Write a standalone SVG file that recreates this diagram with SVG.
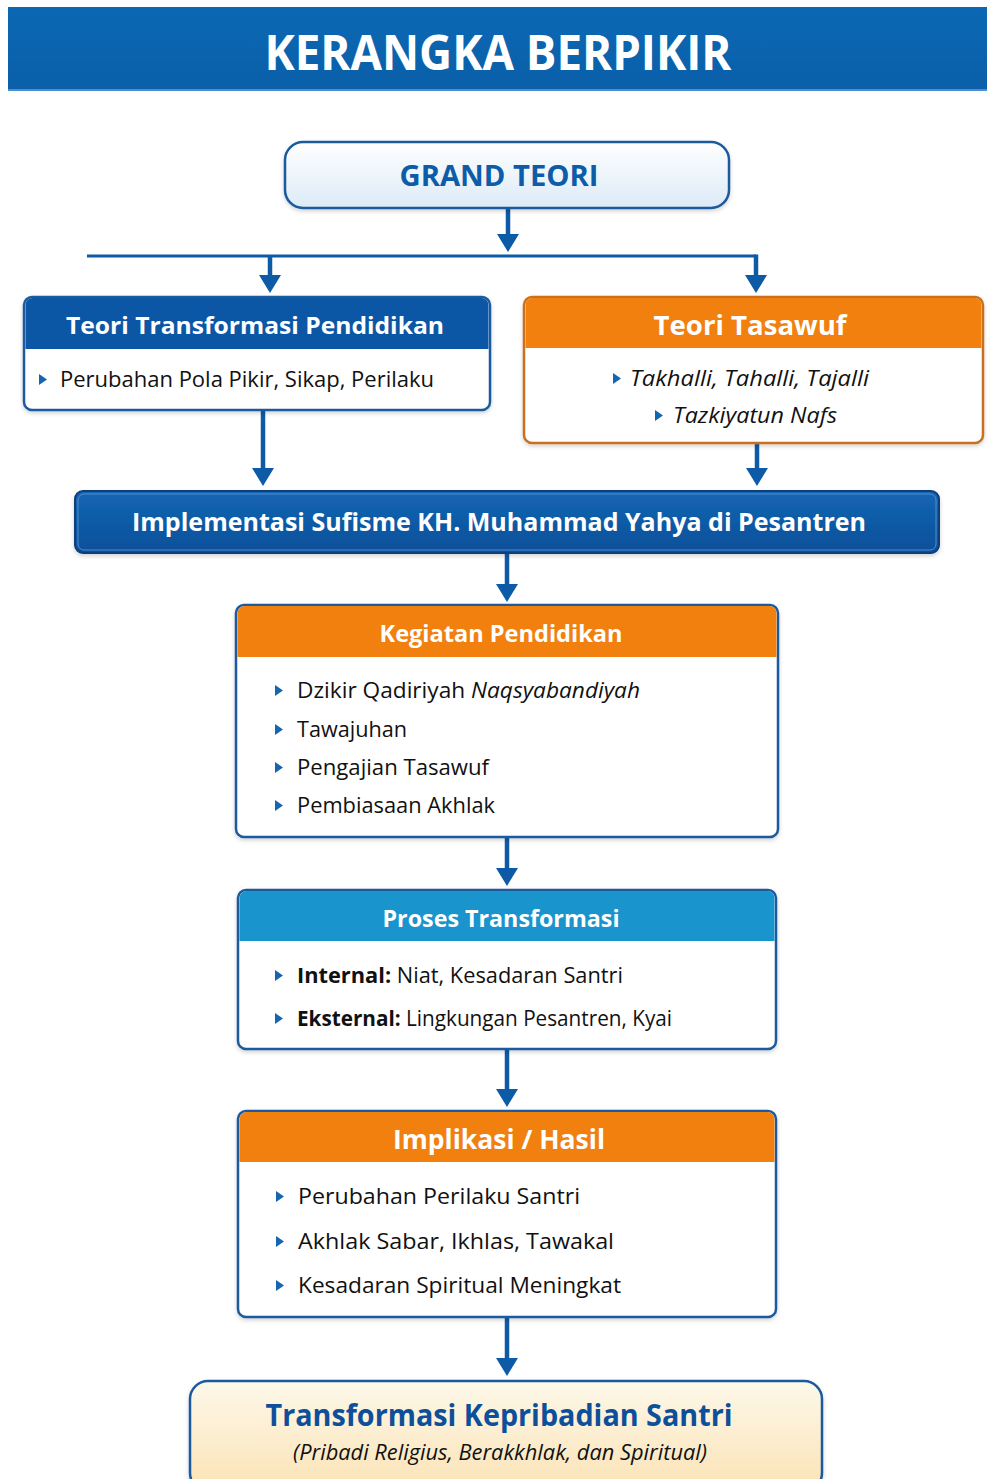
<svg xmlns="http://www.w3.org/2000/svg" width="987" height="1479" viewBox="0 0 987 1479">
<defs>
<style>
.t{font-family:"Open Sans","Noto Sans","DejaVu Sans",sans-serif}
.hd{font-family:"Open Sans","Noto Sans",sans-serif;font-weight:700;fill:#fff}
.bd{font-family:"Open Sans","Noto Sans",sans-serif;fill:#111;font-size:22px}
.box{fill:#fff;stroke:#1b5a9e;stroke-width:2.5}
.obox{fill:#fff;stroke:#c8701c;stroke-width:2.5}
.conn{stroke:#0d5aa7;stroke-width:4.5;fill:none}
.bul{fill:#1565b0}
</style>
<linearGradient id="gGrand" x1="0" y1="0" x2="0" y2="1"><stop offset="0" stop-color="#ffffff"/><stop offset="1" stop-color="#dceaf7"/></linearGradient>
<linearGradient id="gFinal" x1="0" y1="0" x2="0" y2="1"><stop offset="0" stop-color="#fdf8ea"/><stop offset="1" stop-color="#fbe3b5"/></linearGradient>
<linearGradient id="gImpl" x1="0" y1="0" x2="0" y2="1"><stop offset="0" stop-color="#1466b3"/><stop offset="1" stop-color="#0a4f99"/></linearGradient>
<linearGradient id="gHead" x1="0" y1="0" x2="0" y2="1"><stop offset="0" stop-color="#0c68b4"/><stop offset="1" stop-color="#0a5fa8"/></linearGradient>
<marker id="ah" viewBox="0 0 18 22" refX="6" refY="11" markerWidth="18" markerHeight="22" markerUnits="userSpaceOnUse" orient="auto"><path d="M0,0 L18,11 L0,22 z" fill="#0d5aa7"/></marker>
<filter id="sh" x="-5%" y="-10%" width="110%" height="130%"><feDropShadow dx="0" dy="2" stdDeviation="2" flood-color="#000" flood-opacity="0.18"/></filter>
</defs>
<rect x="0" y="0" width="987" height="1479" fill="#ffffff"/>

<g id="title">
<rect x="8" y="7" width="979" height="84" fill="url(#gHead)"/>
<rect x="8" y="89" width="979" height="2" fill="#4a90d0"/>
<text x="498" y="70" text-anchor="middle" class="hd" font-size="48" textLength="467" lengthAdjust="spacingAndGlyphs">KERANGKA BERPIKIR</text>
</g>

<g id="connectors">
<line class="conn" x1="508" y1="208" x2="508" y2="240" marker-end="url(#ah)"/>
<polyline points="87,256 756,256" stroke="#0d5aa7" stroke-width="3" fill="none"/>
<line class="conn" x1="270" y1="256" x2="270" y2="281" marker-end="url(#ah)"/>
<line class="conn" x1="756" y1="254.5" x2="756" y2="281" marker-end="url(#ah)"/>
<line class="conn" x1="263" y1="410" x2="263" y2="474" marker-end="url(#ah)"/>
<line class="conn" x1="757" y1="443" x2="757" y2="474" marker-end="url(#ah)"/>
<line class="conn" x1="507" y1="553" x2="507" y2="590" marker-end="url(#ah)"/>
<line class="conn" x1="507" y1="837" x2="507" y2="874" marker-end="url(#ah)"/>
<line class="conn" x1="507" y1="1049" x2="507" y2="1095" marker-end="url(#ah)"/>
<line class="conn" x1="507" y1="1317" x2="507" y2="1364" marker-end="url(#ah)"/>
</g>

<g id="grand-teori">
<rect x="285" y="142" width="444" height="66" rx="18" fill="url(#gGrand)" stroke="#1b5a9e" stroke-width="2.5" filter="url(#sh)"/>
<text x="499" y="186" text-anchor="middle" class="t" font-weight="700" font-size="29" fill="#0d5ca8" textLength="199" lengthAdjust="spacingAndGlyphs">GRAND TEORI</text>
</g>

<g id="teori-transformasi">
<rect class="box" x="24" y="297" width="466" height="113" rx="8" filter="url(#sh)"/>
<path d="M25.5,349 V305 a7,7 0 0 1 7,-7 H481.5 a7,7 0 0 1 7,7 V349 z" fill="#0b57a5"/>
<text x="255" y="334" text-anchor="middle" class="hd" font-size="24" textLength="378" lengthAdjust="spacingAndGlyphs">Teori Transformasi Pendidikan</text>
<path class="bul" d="M39,374 L47,379.5 L39,385 z"/>
<text x="60" y="387" class="bd" textLength="374" lengthAdjust="spacingAndGlyphs">Perubahan Pola Pikir, Sikap, Perilaku</text>
</g>

<g id="teori-tasawuf">
<rect class="obox" x="524" y="297" width="459" height="146" rx="8" filter="url(#sh)"/>
<path d="M525.5,348 V305 a7,7 0 0 1 7,-7 H974.5 a7,7 0 0 1 7,7 V348 z" fill="#f2800f"/>
<text x="750" y="335" text-anchor="middle" class="hd" font-size="26" textLength="193" lengthAdjust="spacingAndGlyphs">Teori Tasawuf</text>
<path class="bul" d="M613,373 L621,378.5 L613,384 z"/>
<text x="630" y="386" class="bd" font-style="italic" textLength="239" lengthAdjust="spacingAndGlyphs">Takhalli, Tahalli, Tajalli</text>
<path class="bul" d="M655,410 L663,415.5 L655,421 z"/>
<text x="673" y="423" class="bd" font-style="italic" textLength="164" lengthAdjust="spacingAndGlyphs">Tazkiyatun Nafs</text>
</g>

<g id="implementasi">
<rect x="75" y="491" width="864" height="62" rx="8" fill="url(#gImpl)" stroke="#0a3f7a" stroke-width="2" filter="url(#sh)"/>
<rect x="78" y="494" width="858" height="56" rx="6" fill="none" stroke="#4d8fd1" stroke-width="1"/>
<text x="499" y="531" text-anchor="middle" class="hd" font-size="25" textLength="734" lengthAdjust="spacingAndGlyphs">Implementasi Sufisme KH. Muhammad Yahya di Pesantren</text>
</g>

<g id="kegiatan-pendidikan">
<rect class="box" x="236" y="605" width="542" height="232" rx="8" filter="url(#sh)"/>
<path d="M237.5,657 V613 a7,7 0 0 1 7,-7 H769.5 a7,7 0 0 1 7,7 V657 z" fill="#f2800f"/>
<text x="501" y="642" text-anchor="middle" class="hd" font-size="23" textLength="243" lengthAdjust="spacingAndGlyphs">Kegiatan Pendidikan</text>
<path class="bul" d="M275,685 L283,690.5 L275,696 z"/>
<text x="297" y="698" class="bd" textLength="343" lengthAdjust="spacingAndGlyphs">Dzikir Qadiriyah <tspan font-style="italic">Naqsyabandiyah</tspan></text>
<path class="bul" d="M275,724 L283,729.5 L275,735 z"/>
<text x="297" y="737" class="bd" textLength="110" lengthAdjust="spacingAndGlyphs">Tawajuhan</text>
<path class="bul" d="M275,762 L283,767.5 L275,773 z"/>
<text x="297" y="775" class="bd" textLength="192" lengthAdjust="spacingAndGlyphs">Pengajian Tasawuf</text>
<path class="bul" d="M275,800 L283,805.5 L275,811 z"/>
<text x="297" y="813" class="bd" textLength="198" lengthAdjust="spacingAndGlyphs">Pembiasaan Akhlak</text>
</g>

<g id="proses-transformasi">
<rect class="box" x="238" y="890" width="538" height="159" rx="8" filter="url(#sh)"/>
<path d="M239.5,941 V898 a7,7 0 0 1 7,-7 H767.5 a7,7 0 0 1 7,7 V941 z" fill="#1a94cd"/>
<text x="501" y="927" text-anchor="middle" class="hd" font-size="23" textLength="237" lengthAdjust="spacingAndGlyphs">Proses Transformasi</text>
<path class="bul" d="M275,970 L283,975.5 L275,981 z"/>
<text x="297" y="983" class="bd" textLength="326" lengthAdjust="spacingAndGlyphs"><tspan font-weight="700">Internal:</tspan> Niat, Kesadaran Santri</text>
<path class="bul" d="M275,1013 L283,1018.5 L275,1024 z"/>
<text x="297" y="1026" class="bd" textLength="375" lengthAdjust="spacingAndGlyphs"><tspan font-weight="700">Eksternal:</tspan> Lingkungan Pesantren, Kyai</text>
</g>

<g id="implikasi-hasil">
<rect class="box" x="238" y="1111" width="538" height="206" rx="8" filter="url(#sh)"/>
<path d="M239.5,1162 V1119 a7,7 0 0 1 7,-7 H767.5 a7,7 0 0 1 7,7 V1162 z" fill="#f2800f"/>
<text x="499" y="1149" text-anchor="middle" class="hd" font-size="26" textLength="212" lengthAdjust="spacingAndGlyphs">Implikasi / Hasil</text>
<path class="bul" d="M276,1191 L284,1196.5 L276,1202 z"/>
<text x="298" y="1204" class="bd" textLength="282" lengthAdjust="spacingAndGlyphs">Perubahan Perilaku Santri</text>
<path class="bul" d="M276,1236 L284,1241.5 L276,1247 z"/>
<text x="298" y="1249" class="bd" textLength="316" lengthAdjust="spacingAndGlyphs">Akhlak Sabar, Ikhlas, Tawakal</text>
<path class="bul" d="M276,1280 L284,1285.5 L276,1291 z"/>
<text x="298" y="1293" class="bd" textLength="323" lengthAdjust="spacingAndGlyphs">Kesadaran Spiritual Meningkat</text>
</g>

<g id="transformasi-kepribadian">
<rect x="190" y="1381" width="632" height="110" rx="18" fill="url(#gFinal)" stroke="#1b5a9e" stroke-width="2.5" filter="url(#sh)"/>
<text x="499" y="1426" text-anchor="middle" class="t" font-weight="700" font-size="31" fill="#0d4f9a" textLength="467" lengthAdjust="spacingAndGlyphs">Transformasi Kepribadian Santri</text>
<text x="500" y="1460" text-anchor="middle" class="bd" font-style="italic" font-size="20" textLength="414" lengthAdjust="spacingAndGlyphs">(Pribadi Religius, Berakkhlak, dan Spiritual)</text>
</g>
</svg>
